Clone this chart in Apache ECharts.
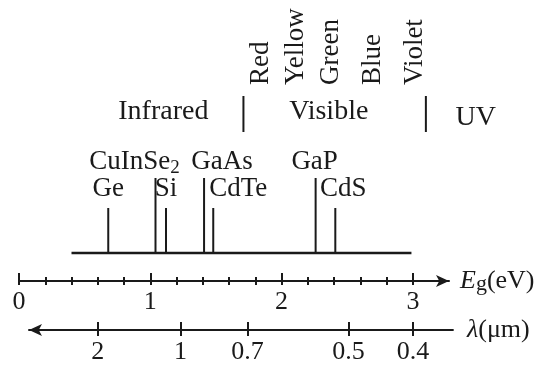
<!DOCTYPE html>
<html>
<head>
<meta charset="utf-8">
<script src="https://cdn.jsdelivr.net/npm/echarts@6/dist/echarts.min.js"></script>
<style>
html, body { margin: 0; padding: 0; background: #fff; }
#chart { width: 544px; height: 367px; }
</style>
</head>
<body>
<div id="chart"></div>
<script>
// band gaps (eV); upper row has the tall lines
var upperMaterials = ['CuInSe2', 'GaAs', 'GaP'];
var upperGaps = [1.04, 1.41, 2.26];
var lowerMaterials = ['Ge', 'Si', 'CdTe', 'CdS'];
var lowerGaps = [0.68, 1.12, 1.48, 2.41];
var baselineRange = [0.40, 2.99];

// spectrum bands on the energy scale
var regionNames = ['Infrared', 'Visible', 'UV'];
var regionCenters = [1.10, 2.36, 3.48];
var regionBounds = [1.71, 3.10];
var colorNames = ['Red', 'Yellow', 'Green', 'Blue', 'Violet'];
var colorEnergies = [1.84, 2.11, 2.38, 2.70, 3.02];

// axes
var egMajorTicks = [0, 1, 2, 3];
var egMinorTicks = [0.2, 0.4, 0.6, 0.8, 1.2, 1.4, 1.6, 1.8, 2.2, 2.4, 2.6, 2.8];
var lambdaLabels = ['2', '1', '0.7', '0.5', '0.4'];
var lambdaTickEnergy = [0.60, 1.23, 1.74, 2.51, 3.00];

var INK = '#1a1a1a';
var FONT = "'Liberation Serif', 'Times New Roman', serif";
var PX_PER_EV = 131.3;

// label nudges (px) so the names sit as in the figure
var labelShift = { 'CuInSe2': -21, 'GaAs': 18, 'GaP': -1, 'Ge': 0, 'Si': 0, 'CdTe': 25, 'CdS': 8 };

var chart = echarts.init(document.getElementById('chart'));

function tickAxis(grid, min, max, ticks, len, inside, extra) {
    var ax = {
        type: 'value', gridIndex: grid, min: min, max: max, position: 'bottom',
        axisLine: { show: false },
        axisTick: { show: true, customValues: ticks, length: len, inside: inside, lineStyle: { color: INK, width: 2 } },
        axisLabel: { show: false },
        splitLine: { show: false }
    };
    return Object.assign(ax, extra || {});
}

var egMax = 3.275, lamMin = 0.076, lamMax = 3.305;

var materialData = upperGaps.map(function (e, i) { return [e, 75, 90, i]; })
    .concat(lowerGaps.map(function (e, i) { return [e, 45, 63, upperGaps.length + i]; }));
var materialNames = upperMaterials.concat(lowerMaterials);

var option = {
    animation: false,
    backgroundColor: '#fff',
    grid: [
        { left: 19, top: 0, width: 4 * PX_PER_EV, height: 253 },
        { left: 19, top: 280, width: egMax * PX_PER_EV, height: 1 },
        { left: 29, top: 329, width: (lamMax - lamMin) * PX_PER_EV, height: 1 }
    ],
    xAxis: [
        { type: 'value', gridIndex: 0, min: 0, max: 4, show: false },
        tickAxis(1, 0, egMax, egMajorTicks, 4, false, {
            axisLine: { show: true, symbol: ['none', 'arrow'], symbolSize: [9, 13], lineStyle: { color: INK, width: 2 } },
            axisLabel: { show: true, customValues: egMajorTicks, margin: 8, color: INK, fontSize: 26, fontFamily: FONT },
            name: '{i|E}{s|g}{n|(eV)}',
            nameLocation: 'end',
            nameGap: 11,
            nameTextStyle: {
                rich: {
                    i: { fontSize: 26, fontStyle: 'italic', fontFamily: FONT, color: INK },
                    s: { fontSize: 22, fontFamily: FONT, color: INK, padding: [6, 0, 0, 0] },
                    n: { fontSize: 26, fontFamily: FONT, color: INK }
                }
            }
        }),
        tickAxis(1, 0, egMax, egMajorTicks, 8, true),
        tickAxis(1, 0, egMax, egMinorTicks, 4, false),
        tickAxis(1, 0, egMax, egMinorTicks, 4, true),
        tickAxis(2, lamMin, lamMax, lambdaTickEnergy, 6, false, {
            axisLine: { show: true, symbol: ['arrow', 'none'], symbolSize: [9, 13], lineStyle: { color: INK, width: 2 } },
            axisLabel: {
                show: true, customValues: lambdaTickEnergy, margin: 9, color: INK, fontSize: 26, fontFamily: FONT,
                formatter: function (v) { return lambdaLabels[lambdaTickEnergy.indexOf(v)]; }
            },
            name: '{i|λ}{n|(μm)}',
            nameLocation: 'end',
            nameGap: 14,
            nameTextStyle: {
                rich: {
                    i: { fontSize: 26, fontStyle: 'italic', fontFamily: FONT, color: INK },
                    n: { fontSize: 26, fontFamily: FONT, color: INK }
                }
            }
        }),
        tickAxis(2, lamMin, lamMax, lambdaTickEnergy, 8, true)
    ],
    yAxis: [
        { type: 'value', gridIndex: 0, min: 0, max: 253, show: false },
        { type: 'value', gridIndex: 1, min: 0, max: 1, show: false },
        { type: 'value', gridIndex: 2, min: 0, max: 1, show: false }
    ],
    series: [
        {
            // baseline of the band-gap lines
            type: 'line', xAxisIndex: 0, yAxisIndex: 0, clip: false, symbol: 'none',
            data: [[baselineRange[0], 0], [baselineRange[1], 0]],
            lineStyle: { color: INK, width: 2.5 }
        },
        {
            type: 'custom', xAxisIndex: 0, yAxisIndex: 0,
            data: materialData,
            renderItem: function (params, api) {
                var e = api.value(0);
                var name = materialNames[api.value(3)];
                var p0 = api.coord([e, 0]);
                var p1 = api.coord([e, api.value(1)]);
                var pt = api.coord([e, api.value(2)]);
                var txt = name === 'CuInSe2' ? '{a|CuInSe}{b|2}' : '{a|' + name + '}';
                return {
                    type: 'group',
                    children: [
                        { type: 'line', shape: { x1: p0[0], y1: p0[1], x2: p1[0], y2: p1[1] }, style: { stroke: INK, lineWidth: 2 } },
                        {
                            type: 'text', x: pt[0] + labelShift[name], y: pt[1],
                            style: {
                                text: txt, align: 'center', verticalAlign: 'middle', fill: INK,
                                rich: {
                                    a: { fontSize: 27, fontFamily: FONT, fill: INK, verticalAlign: 'bottom', padding: [0, 0, 2, 0] },
                                    b: { fontSize: 19, fontFamily: FONT, fill: INK, verticalAlign: 'bottom' }
                                }
                            }
                        }
                    ]
                };
            }
        },
        {
            // visible-range boundaries
            type: 'custom', xAxisIndex: 0, yAxisIndex: 0,
            data: regionBounds.map(function (e) { return [e]; }),
            renderItem: function (params, api) {
                var a = api.coord([api.value(0), 121]);
                var b = api.coord([api.value(0), 157]);
                return { type: 'line', shape: { x1: a[0], y1: a[1], x2: b[0], y2: b[1] }, style: { stroke: INK, lineWidth: 2 } };
            }
        },
        {
            type: 'custom', xAxisIndex: 0, yAxisIndex: 0,
            data: regionCenters.map(function (e, i) { return [e, i]; }),
            renderItem: function (params, api) {
                var i = api.value(1);
                var p = api.coord([api.value(0), i === 2 ? 135 : 141]);
                return {
                    type: 'text', x: p[0], y: p[1],
                    style: { text: regionNames[i], align: 'center', verticalAlign: 'middle', fill: INK, fontSize: 28, fontFamily: FONT }
                };
            }
        },
        {
            type: 'custom', xAxisIndex: 0, yAxisIndex: 0,
            data: colorEnergies.map(function (e, i) { return [e, i]; }),
            renderItem: function (params, api) {
                var p = api.coord([api.value(0), 168]);
                return {
                    type: 'text', x: p[0], y: p[1], rotation: Math.PI / 2,
                    style: { text: colorNames[api.value(1)], align: 'left', verticalAlign: 'middle', fill: INK, fontSize: 27, fontFamily: FONT }
                };
            }
        }
    ]
};

chart.setOption(option);
</script>
</body>
</html>
